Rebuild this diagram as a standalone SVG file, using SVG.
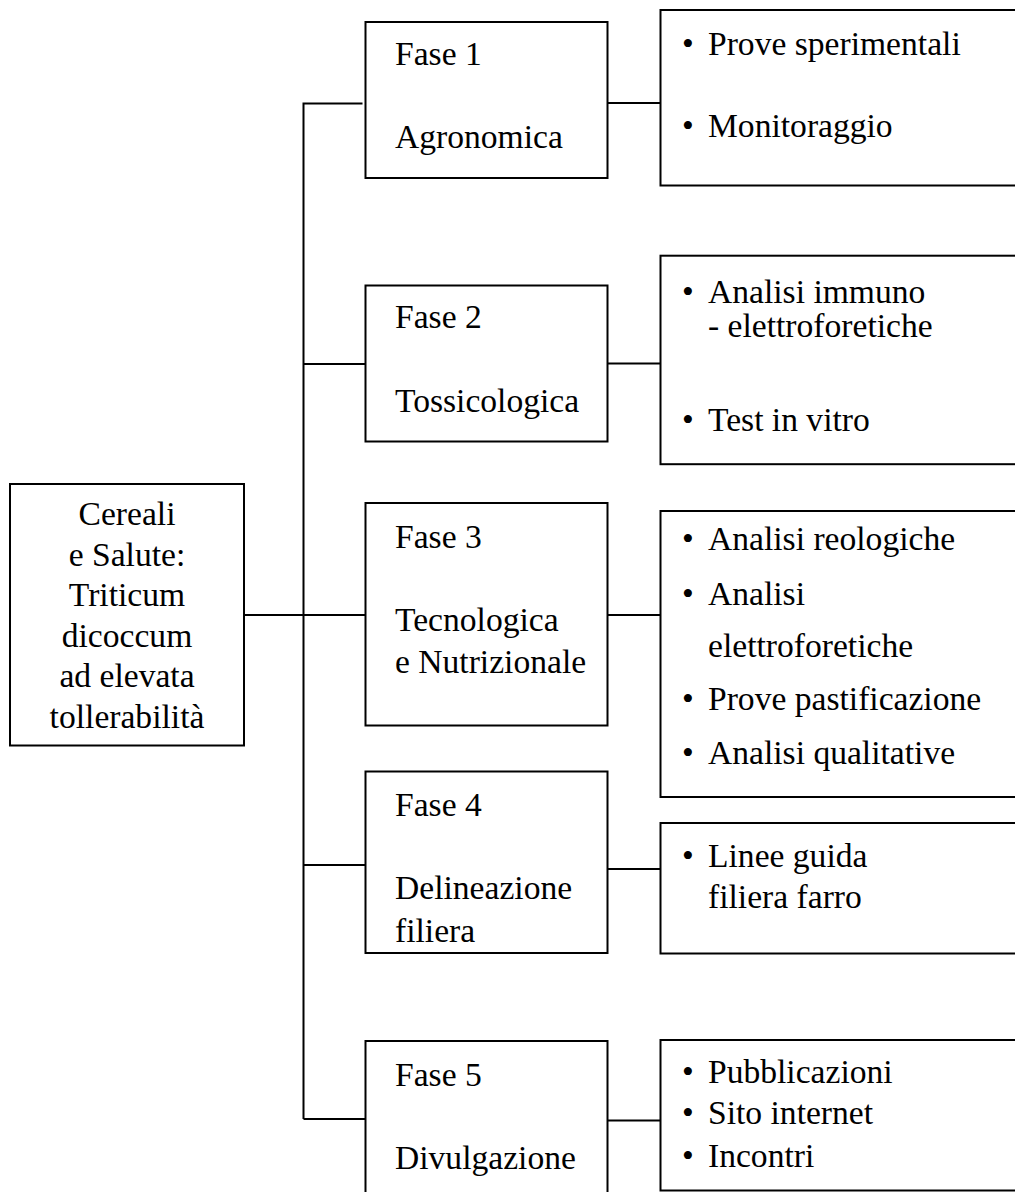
<svg xmlns="http://www.w3.org/2000/svg" width="1015" height="1192" viewBox="0 0 1015 1192">
<style>
.box{fill:#fff;stroke:#000;stroke-width:2}
.ln{fill:none;stroke:#000;stroke-width:2}
text{font-family:"Liberation Serif","Times New Roman",serif;font-size:33.6px;fill:#000}
.c{text-anchor:middle}
</style>
<rect width="1015" height="1192" fill="#fff"/>
<g id="connectors">
<polyline class="ln" points="303.5,1119 303.5,103.5 362.5,103.5"/>
<line class="ln" x1="303.5" y1="364" x2="365" y2="364"/>
<line class="ln" x1="244" y1="615" x2="365" y2="615"/>
<line class="ln" x1="303.5" y1="865" x2="365" y2="865"/>
<line class="ln" x1="303.5" y1="1119" x2="365" y2="1119"/>
<line class="ln" x1="607" y1="103" x2="660" y2="103"/>
<line class="ln" x1="607" y1="363.5" x2="660" y2="363.5"/>
<line class="ln" x1="607" y1="615" x2="660" y2="615"/>
<line class="ln" x1="607" y1="869" x2="660" y2="869"/>
<line class="ln" x1="607" y1="1120.5" x2="660" y2="1120.5"/>
</g>
<g id="root">
<rect class="box" x="10" y="484" width="234" height="261.5"/>
<text class="c" x="127" y="525">Cereali</text>
<text class="c" x="127" y="565.5">e Salute:</text>
<text class="c" x="127" y="606">Triticum</text>
<text class="c" x="127" y="646.5">dicoccum</text>
<text class="c" x="127" y="687">ad elevata</text>
<text class="c" x="127" y="727.5">tollerabilità</text>
</g>
<g id="fase1">
<rect class="box" x="365.5" y="22" width="242" height="156"/>
<text x="395" y="65">Fase 1</text>
<text x="395" y="148">Agronomica</text>
</g>
<g id="fase2">
<rect class="box" x="365.5" y="285.5" width="242" height="156"/>
<text x="395" y="328.3">Fase 2</text>
<text x="395" y="412.3">Tossicologica</text>
</g>
<g id="fase3">
<rect class="box" x="365.5" y="503" width="242" height="222.5"/>
<text x="395" y="547.7">Fase 3</text>
<text x="395" y="631">Tecnologica</text>
<text x="395" y="673.3">e Nutrizionale</text>
</g>
<g id="fase4">
<rect class="box" x="365.5" y="771.5" width="242" height="181.5"/>
<text x="395" y="816">Fase 4</text>
<text x="395" y="899.3">Delineazione</text>
<text x="395" y="941.7">filiera</text>
</g>
<g id="fase5">
<rect class="box" x="365.5" y="1041" width="242" height="170"/>
<text x="395" y="1085.7">Fase 5</text>
<text x="395" y="1169.3">Divulgazione</text>
</g>
<g id="att1">
<rect class="box" x="660.5" y="10" width="370" height="175.5"/>
<text x="682" y="55">•</text><text x="708" y="55">Prove sperimentali</text>
<text x="682" y="136.7">•</text><text x="708" y="136.7">Monitoraggio</text>
</g>
<g id="att2">
<rect class="box" x="660.5" y="255.7" width="370" height="208.5"/>
<text x="682" y="303.3">•</text><text x="708" y="303.3">Analisi immuno</text>
<text x="708" y="336.7">- elettroforetiche</text>
<text x="682" y="430.7">•</text><text x="708" y="430.7">Test in vitro</text>
</g>
<g id="att3">
<rect class="box" x="660.5" y="511" width="370" height="286"/>
<text x="682" y="550">•</text><text x="708" y="550">Analisi reologiche</text>
<text x="682" y="605">•</text><text x="708" y="605">Analisi</text>
<text x="708" y="656.7">elettroforetiche</text>
<text x="682" y="710">•</text><text x="708" y="710">Prove pastificazione</text>
<text x="682" y="764">•</text><text x="708" y="764">Analisi qualitative</text>
</g>
<g id="att4">
<rect class="box" x="660.5" y="823" width="370" height="130.5"/>
<text x="682" y="866.7">•</text><text x="708" y="866.7">Linee guida</text>
<text x="708" y="908.3">filiera farro</text>
</g>
<g id="att5">
<rect class="box" x="660.5" y="1040" width="370" height="150.5"/>
<text x="682" y="1082.7">•</text><text x="708" y="1082.7">Pubblicazioni</text>
<text x="682" y="1124">•</text><text x="708" y="1124">Sito internet</text>
<text x="682" y="1166.7">•</text><text x="708" y="1166.7">Incontri</text>
</g>
</svg>
